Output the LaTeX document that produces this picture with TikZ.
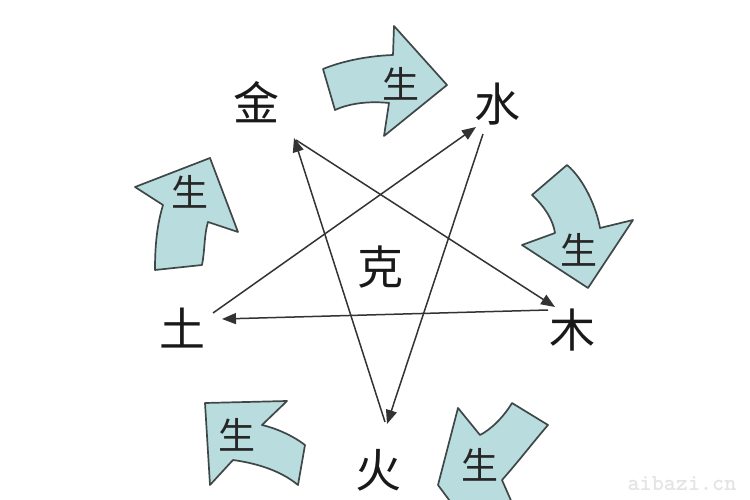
\documentclass[tikz,border=0pt]{standalone}
\usepackage{fontspec}
\newfontfamily\cjk{Noto Sans CJK SC}
\usetikzlibrary{arrows.meta}
\definecolor{arrowfill}{HTML}{B9DCDF}
\definecolor{arrowline}{HTML}{3F4747}
\definecolor{starline}{HTML}{333333}
\definecolor{wmark}{HTML}{E4E4E4}
\begin{document}
\begin{tikzpicture}[x=1pt,y=-1pt,
  element/.style={font=\cjk\fontsize{46}{46}\selectfont, text=black!90, inner sep=0pt},
  shenglabel/.style={font=\cjk\fontsize{37}{37}\selectfont, text=black!85, inner sep=0pt},
  blockarrow/.style={fill=arrowfill, draw=arrowline, line width=1.7pt, line join=round},
  keline/.style={draw=starline, line width=1.5pt, -{Triangle[length=14pt,width=11pt]}}]
\useasboundingbox (0,0) rectangle (750,500);
\fill[white] (0,0) rectangle (750,500);
\clip (0,0) rectangle (750,500);

% element labels
\node[element] (jin) at (256,102) {金};
\node[element] (shui) at (497,104) {水};
\node[element] (mu) at (572,330) {木};
\node[element] (huo) at (378,470) {火};
\node[element] (tu) at (182,328) {土};
\node[element] (ke) at (380,267) {克};

% line end points
\coordinate (jinA) at (294,138);
\coordinate (jinB) at (296,140);
\coordinate (shuiA) at (476,127);
\coordinate (shuiB) at (483,134);
\coordinate (muA) at (555,307);
\coordinate (muB) at (548,310);
\coordinate (huoA) at (387,424);
\coordinate (huoB) at (385,422);
\coordinate (tuA) at (222,319);
\coordinate (tuB) at (213,313);

% ke (control) lines
\draw[keline] (tuB) -- (shuiA);
\draw[keline] (shuiB) -- (huoA);
\draw[keline] (huoB) -- (jinA);
\draw[keline] (jinB) -- (muA);
\draw[keline] (muB) -- (tuA);

% sheng (generation) block arrows
% jin -> shui
\draw[blockarrow] (323,69) .. controls (340,62) and (365,56) .. (393,55)
  -- (394,26) -- (447,85) -- (384,136) -- (389,103)
  .. controls (370,101) and (350,103) .. (335,110) -- cycle;
\node[shenglabel] (s1) at (401,84) {生};
% shui -> mu
\draw[blockarrow] (567,165) -- (532,195)
  .. controls (545,207) and (553,220) .. (555,233)
  -- (522,245) -- (588,288) -- (633,220) -- (600,228)
  .. controls (597,210) and (585,180) .. (567,165) -- cycle;
\node[shenglabel] (s2) at (579,250) {生};
% mu -> huo
\draw[blockarrow] (438,485) -- (458,408) -- (480,435)
  .. controls (490,430) and (503,418) .. (512,403)
  -- (548,425)
  .. controls (535,440) and (518,462) .. (502,480)
  -- (516,512) -- (458,512) -- cycle;
\node[shenglabel] (s3) at (480,465) {生};
% huo -> tu
\draw[blockarrow] (205,403) -- (287,401) -- (262,425)
  .. controls (275,428) and (292,435) .. (305,445)
  -- (298,485)
  .. controls (280,470) and (255,463) .. (233,460)
  -- (210,485) -- cycle;
\node[shenglabel] (s4) at (237,435) {生};
% tu -> jin
\draw[blockarrow] (155,270) -- (202,265)
  .. controls (205,250) and (204,235) .. (208,222)
  -- (238,232) -- (210,158) -- (135,187) -- (163,205)
  .. controls (157,225) and (155,245) .. (155,270) -- cycle;
\node[shenglabel] (s5) at (190,192) {生};

% watermark
\node[text=wmark, font=\ttfamily\bfseries\fontsize{23}{23}\selectfont, inner sep=0pt] (wm) at (682,484) {aibazi.cn};
\end{tikzpicture}
\end{document}
